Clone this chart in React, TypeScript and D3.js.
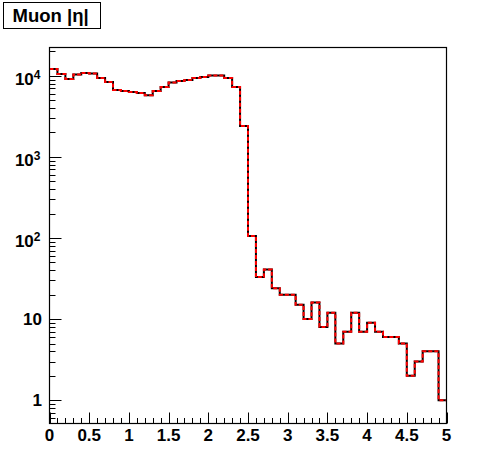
import React from "react";
import * as d3 from "d3";

const W = 496, H = 472;
const frame = { left: 49.5, right: 446.5, top: 47.5, bottom: 423.5 };

// histogram: 50 bins over |eta| 0..5
const xMin = 0, xMax = 5, nBins = 50;
const counts = [
  12170, 10550, 9160, 10380, 10860, 10670, 9420, 8410, 6700, 6510,
  6330, 6150, 5760, 6510, 7300, 8270, 8650, 8900, 9420, 9700,
  10090, 10100, 9420, 7300, 2410, 106, 33, 41, 24, 20,
  20, 15, 10, 16, 8, 12, 5, 7, 12, 7,
  9, 7, 6, 6, 5, 2, 3, 4, 4, 1,
];

const xTicks = [0, 0.5, 1, 1.5, 2, 2.5, 3, 3.5, 4, 4.5, 5];
const xTickLabels = ["0", "0.5", "1", "1.5", "2", "2.5", "3", "3.5", "4", "4.5", "5"];
const yDecades = [1, 10, 100, 1000, 10000];
const yExponents = ["", "", "2", "3", "4"];

const yMin = 0.516, yMax = 22340;

const font = "'Liberation Sans', Arial, Helvetica, sans-serif";

export default function App() {
  const x = d3.scaleLinear().domain([xMin, xMax]).range([frame.left, frame.right]);
  const y = d3.scaleLog().domain([yMin, yMax]).range([frame.bottom, frame.top]);

  const binW = (xMax - xMin) / nBins;
  const pts: [number, number][] = counts.map((c, i) => [xMin + i * binW, c]);
  pts.push([xMax, counts[counts.length - 1]]);

  const line = d3
    .line<[number, number]>()
    .x((d) => x(d[0]))
    .y((d) => y(d[1]))
    .curve(d3.curveStepAfter);
  const path = line(pts) || "";

  // minor ticks
  const xMinor = d3.range(0, 51).map((i) => i * 0.1);
  const yMinor: number[] = [];
  for (let e = -1; e <= 4; e++) {
    for (let k = 1; k <= 9; k++) {
      const v = k * Math.pow(10, e);
      if (v >= yMin && v <= yMax) yMinor.push(v);
    }
  }

  return (
    <div style={{ position: "absolute", left: 0, top: 0 }}>
      <svg width={W} height={H} style={{ display: "block", background: "#fff" }}>
        <rect x={0} y={0} width={W} height={H} fill="#fff" />

        {/* title box */}
        <rect x={3.5} y={2.5} width={97} height={26} fill="#fff" stroke="#000" strokeWidth={1} />
        <text x={12.5} y={22} fontFamily={font} fontWeight="bold" fontSize={18.5} fill="#000">
          Muon |η|
        </text>

        {/* histogram */}
        <path d={path} fill="none" stroke="#000" strokeWidth={2} />
        <path d={path} fill="none" stroke="#f00" strokeWidth={2} strokeDasharray="4 2" />

        {/* frame */}
        <rect
          x={frame.left}
          y={frame.top}
          width={frame.right - frame.left}
          height={frame.bottom - frame.top}
          fill="none"
          stroke="#000"
          strokeWidth={1.2}
        />

        {/* x ticks */}
        {xMinor.map((v, i) => {
          const major = i % 5 === 0;
          const px = Math.round(x(v)) + 0.5;
          return (
            <line
              key={"xm" + i}
              x1={px}
              x2={px}
              y1={frame.bottom}
              y2={frame.bottom - (major ? 11 : 5.5)}
              stroke="#000"
              strokeWidth={1}
            />
          );
        })}
        {xTicks.map((v, i) => (
          <text
            key={"xl" + i}
            x={x(v)}
            y={441}
            textAnchor="middle"
            fontFamily={font}
            fontWeight="bold"
            fontSize={17}
            fill="#000"
          >
            {xTickLabels[i]}
          </text>
        ))}

        {/* y ticks */}
        {yMinor.map((v, i) => {
          const major = yDecades.includes(v);
          const py = Math.round(y(v)) + 0.5;
          return (
            <line
              key={"ym" + i}
              x1={frame.left}
              x2={frame.left + (major ? 12 : 6)}
              y1={py}
              y2={py}
              stroke="#000"
              strokeWidth={1}
            />
          );
        })}
        {yDecades.map((v, i) => {
          const exp = yExponents[i];
          const py = y(v);
          if (!exp) {
            return (
              <text
                key={"yl" + i}
                x={42}
                y={py + 6}
                textAnchor="end"
                fontFamily={font}
                fontWeight="bold"
                fontSize={17}
                fill="#000"
              >
                {v}
              </text>
            );
          }
          return (
            <text
              key={"yl" + i}
              x={40.5}
              y={py + 9}
              textAnchor="end"
              fontFamily={font}
              fontWeight="bold"
              fontSize={17}
              fill="#000"
            >
              10
              <tspan fontSize={12} dy={-6}>
                {exp}
              </tspan>
            </text>
          );
        })}
      </svg>
    </div>
  );
}
